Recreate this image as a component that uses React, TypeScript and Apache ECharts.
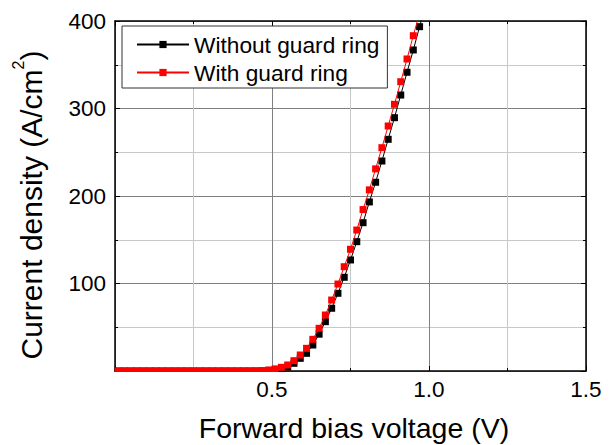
import React, { useEffect, useRef } from "react";
import * as echarts from "echarts";

const FONT = "'Liberation Sans', Arial, sans-serif";

const voltage = [
  0.01, 0.03, 0.05, 0.07, 0.09, 0.11, 0.13, 0.15, 0.17, 0.19,
  0.21, 0.23, 0.25, 0.27, 0.29, 0.31, 0.33, 0.35, 0.37, 0.39,
  0.41, 0.43, 0.45, 0.47, 0.49, 0.51, 0.53, 0.55, 0.57, 0.59,
  0.61, 0.63, 0.65, 0.67, 0.69, 0.71, 0.73, 0.75, 0.77, 0.79,
  0.81, 0.83, 0.85, 0.87, 0.89, 0.91, 0.93, 0.95, 0.97, 0.99,
];

const withoutGuardRing = [
  0, 0, 0, 0, 0, 0, 0, 0, 0, 0,
  0, 0, 0, 0, 0, 0, 0, 0, 0, 0,
  0, 0, 0, 0.1, 0.4, 1.0, 2.3, 4.6, 8.8, 14.5,
  20.2, 29.7, 42.1, 56.4, 71.7, 88.8, 107.1, 126.9, 147.8, 169.5,
  193.2, 215.7, 240, 264.8, 289.5, 315.4, 341.4, 366.9, 393.5, 420,
];

const withGuardRing = [
  0, 0, 0, 0, 0, 0, 0, 0, 0, 0,
  0, 0, 0, 0, 0, 0, 0, 0, 0, 0,
  0, 0, 0.1, 0.4, 1.2, 2.4, 4.2, 6.9, 11.8, 18.3,
  25.9, 36.2, 48.8, 64, 81.1, 99.4, 119.2, 139.1, 161.1, 184.5,
  207, 231, 255.2, 280, 304.8, 330.6, 356.6, 383.2, 409, 436,
];

const seriesNames = ["Without guard ring", "With guard ring"];
const seriesColors = ["#000000", "#ff0000"];

const xTitle = "Forward bias voltage (V)";

export default function App() {
  const ref = useRef<HTMLDivElement>(null);

  useEffect(() => {
    if (!ref.current) return;
    const chart = echarts.init(ref.current, null, { renderer: "svg" });

    const frameAxisX = (position: "bottom" | "top", labels: boolean) => ({
      type: "value",
      position,
      min: 0,
      max: 1.5,
      interval: 0.5,
      axisLine: { show: true, onZero: false, lineStyle: { color: "#000", width: 1.5 } },
      axisTick: { show: true, inside: true, length: 5, lineStyle: { color: "#000", width: 1 } },
      minorTick: { show: true, splitNumber: 2, length: 3, lineStyle: { color: "#000", width: 1 } },
      splitLine: { show: labels, lineStyle: { color: "#808080", width: 1 } },
      minorSplitLine: { show: labels, lineStyle: { color: "#c8c8c8", width: 1 } },
      axisLabel: {
        show: labels,
        margin: 7,
        fontSize: 22.5,
        color: "#000",
        fontFamily: FONT,
        formatter: (v: number) => (v === 0 ? "" : v.toFixed(1)),
      },
    });

    const frameAxisY = (position: "left" | "right", labels: boolean) => ({
      type: "value",
      position,
      min: 0,
      max: 400,
      interval: 100,
      axisLine: { show: true, onZero: false, lineStyle: { color: "#000", width: 1.5 } },
      axisTick: { show: true, inside: true, length: 5, lineStyle: { color: "#000", width: 1 } },
      minorTick: { show: true, splitNumber: 2, length: 3, lineStyle: { color: "#000", width: 1 } },
      splitLine: { show: labels, lineStyle: { color: "#808080", width: 1 } },
      minorSplitLine: { show: labels, lineStyle: { color: "#c8c8c8", width: 1 } },
      axisLabel: {
        show: labels,
        margin: 9,
        fontSize: 22.5,
        color: "#000",
        fontFamily: FONT,
        formatter: (v: number) => (v === 0 ? "" : String(v)),
      },
    });

    const makeSeries = (i: number, values: number[]) => ({
      name: seriesNames[i],
      type: "line",
      xAxisIndex: 0,
      yAxisIndex: 0,
      data: voltage.map((v, k) => [v, values[k]]),
      symbol: "rect",
      symbolSize: 7,
      clip: true,
      lineStyle: { color: seriesColors[i], width: 1 },
      itemStyle: { color: seriesColors[i] },
      z: 2 + i,
    });

    chart.setOption({
      animation: false,
      backgroundColor: "#fff",
      grid: { left: 115, right: 28, top: 21, bottom: 74, containLabel: false },
      xAxis: [frameAxisX("bottom", true), frameAxisX("top", false)],
      yAxis: [frameAxisY("left", true), frameAxisY("right", false)],
      legend: {
        orient: "vertical",
        left: 122,
        top: 26,
        itemWidth: 52,
        itemHeight: 9,
        itemGap: 5,
        padding: [7, 8, 4, 14],
        borderColor: "#333",
        borderWidth: 1,
        backgroundColor: "#fff",
        textStyle: { fontSize: 22.7, color: "#000", fontFamily: FONT },
        data: seriesNames,
      },
      series: [makeSeries(0, withoutGuardRing), makeSeries(1, withGuardRing)],
      graphic: [
        {
          type: "rect",
          z: 100,
          shape: { x: 100, y: 372, width: 500, height: 6 },
          style: { fill: "#fff" },
          silent: true,
        },
        {
          type: "text",
          z: 100,
          x: 354,
          y: 428,
          style: {
            text: xTitle,
            fontSize: 28.5,
            fontFamily: FONT,
            fill: "#000",
            textAlign: "center",
            textVerticalAlign: "middle",
          },
        },
        {
          type: "text",
          z: 100,
          x: 28,
          y: 205,
          rotation: Math.PI / 2,
          style: {
            text: "{a|Current density (A/cm}{s|2}{a|)}",
            textAlign: "center",
            textVerticalAlign: "middle",
            fill: "#000",
            rich: {
              a: { fontSize: 30, lineHeight: 36, fontFamily: FONT, fill: "#000", verticalAlign: "bottom" },
              s: { fontSize: 16, lineHeight: 16, fontFamily: FONT, fill: "#000", verticalAlign: "top" },
            },
          },
        },
      ],
    });

    return () => chart.dispose();
  }, []);

  return (
    <div
      ref={ref}
      style={{ position: "fixed", left: 0, top: 0, width: 614, height: 445 }}
    />
  );
}
